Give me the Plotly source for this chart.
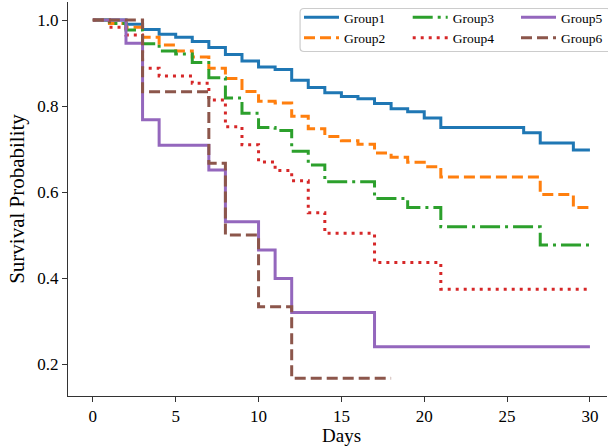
import plotly.graph_objects as go

# ---- data ----
groups = ["Group1", "Group2", "Group3", "Group4", "Group5", "Group6"]

g1_days = [0, 2, 3, 4, 5, 6, 7, 8, 9, 10, 11, 12, 13, 14, 15, 16, 17, 18, 19, 20, 21, 26, 27, 29, 30]
g1_surv = [1.0, 0.990, 0.978, 0.967, 0.960, 0.950, 0.936, 0.920, 0.905, 0.891, 0.885, 0.860, 0.843,
           0.831, 0.822, 0.817, 0.806, 0.794, 0.787, 0.772, 0.750, 0.738, 0.714, 0.698, 0.698]

g2_days = [0, 1, 2, 3, 4, 5, 6, 7, 8, 9, 10, 11, 12, 13, 14, 15, 16, 17, 18, 19, 20, 21, 27, 29, 30]
g2_surv = [1.0, 0.992, 0.983, 0.960, 0.942, 0.928, 0.914, 0.888, 0.864, 0.834, 0.811, 0.807, 0.776,
           0.747, 0.729, 0.719, 0.711, 0.691, 0.681, 0.669, 0.659, 0.635, 0.594, 0.564, 0.564]

g3_days = [0, 1, 2, 3, 4, 5, 6, 7, 8, 9, 10, 11, 12, 13, 14, 17, 19, 21, 27, 30]
g3_surv = [1.0, 0.992, 0.977, 0.945, 0.928, 0.921, 0.901, 0.866, 0.819, 0.783, 0.750, 0.743, 0.695,
           0.663, 0.624, 0.585, 0.564, 0.519, 0.477, 0.477]

g4_days = [0, 1, 2, 3, 4, 6, 7, 8, 9, 10, 11, 12, 13, 14, 17, 21, 30]
g4_surv = [1.0, 0.983, 0.965, 0.888, 0.870, 0.853, 0.814, 0.752, 0.710, 0.670, 0.650, 0.626, 0.552,
           0.504, 0.436, 0.374, 0.374]

g5_days = [0, 2, 3, 4, 7, 8, 10, 11, 12, 17, 30]
g5_surv = [1.0, 0.946, 0.768, 0.709, 0.651, 0.531, 0.465, 0.399, 0.320, 0.240, 0.240]

g6_days = [0, 3, 7, 8, 10, 12, 18]
g6_surv = [1.0, 0.833, 0.667, 0.500, 0.333, 0.167, 0.167]

x_ticks = [0, 5, 10, 15, 20, 25, 30]
y_ticks = [0.2, 0.4, 0.6, 0.8, 1.0]
y_tick_labels = ["0.2", "0.4", "0.6", "0.8", "1.0"]

all_days = [g1_days, g2_days, g3_days, g4_days, g5_days, g6_days]
all_surv = [g1_surv, g2_surv, g3_surv, g4_surv, g5_surv, g6_surv]

# ---- styling ----
colors = ["#1f77b4", "#ff7f0e", "#2ca02c", "#d62728", "#9467bd", "#8c564b"]
dashes = ["solid", "11px,5px", "20px,5px,3px,5px", "3px,5px", "solid", "11px,5px"]
legend_ids = ["legend", "legend", "legend2", "legend2", "legend3", "legend3"]
FONT = "Liberation Serif, Times New Roman, serif"

fig = go.Figure()
for name, d, s, c, ds, lg in zip(groups, all_days, all_surv, colors, dashes, legend_ids):
    fig.add_trace(go.Scatter(
        x=d, y=s, mode="lines", name=name, line_shape="hv", legendgroup=name,
        line=dict(color=c, width=3, dash=ds), legend=lg,
    ))

W, H = 608, 447
ml, mr, mt, mb = 68, 0, 2, 51
pw, ph = W - ml - mr, H - mt - mb


def px_x(px):
    return (px - ml) / pw


def px_y(py):
    return (H - mb - py) / ph


leg_common = dict(
    bgcolor="rgba(0,0,0,0)", borderwidth=0, orientation="v",
    xanchor="left", yanchor="top", font=dict(family=FONT, size=13.5, color="#000000"),
    tracegroupgap=0, itemwidth=35,
)
leg_top = px_y(2)

fig.update_layout(
    width=W, height=H,
    margin=dict(l=ml, r=mr, t=mt, b=mb),
    paper_bgcolor="white", plot_bgcolor="white",
    font=dict(family=FONT, color="#000000"),
    showlegend=True,
    legend=dict(x=px_x(299), y=leg_top, **leg_common),
    legend2=dict(x=px_x(407.7), y=leg_top, **leg_common),
    legend3=dict(x=px_x(516.7), y=leg_top, **leg_common),
    xaxis=dict(
        range=[-1.5, 31.03], tickmode="array", tickvals=x_ticks,
        ticktext=[str(v) for v in x_ticks],
        showgrid=False, zeroline=False, showline=True, linecolor="#333333", linewidth=1,
        ticks="outside", ticklen=5, tickwidth=1, tickcolor="#333333",
        tickfont=dict(family=FONT, size=17, color="#000000"),
    ),
    yaxis=dict(
        range=[0.1256, 1.042], tickmode="array", tickvals=y_ticks, ticktext=y_tick_labels,
        showgrid=False, zeroline=False, showline=True, linecolor="#333333", linewidth=1,
        ticks="outside", ticklen=5, tickwidth=1, tickcolor="#333333",
        tickfont=dict(family=FONT, size=17, color="#000000"),
        title=dict(text="Survival Probability", font=dict(family=FONT, size=21, color="#000000"),
                   standoff=6),
    ),
)

# x-axis title centred on the (wider, cropped) matplotlib axes
fig.add_annotation(
    x=15, y=-0.07, xref="x", yref="paper", text="Days", showarrow=False,
    xanchor="center", yanchor="top", borderpad=0,
    font=dict(family=FONT, size=19, color="#000000"),
)

# legend frame (shared by the three columns)
x0, x1 = px_x(300.5), px_x(612)
y0, y1 = px_y(51.5), px_y(8.5)
rx, ry = 4 / pw, 4 / ph
path = (f"M {x0 + rx},{y1} L {x1 - rx},{y1} Q {x1},{y1} {x1},{y1 - ry} "
        f"L {x1},{y0 + ry} Q {x1},{y0} {x1 - rx},{y0} L {x0 + rx},{y0} "
        f"Q {x0},{y0} {x0},{y0 + ry} L {x0},{y1 - ry} Q {x0},{y1} {x0 + rx},{y1} Z")
fig.add_shape(type="path", path=path, xref="paper", yref="paper",
              line=dict(color="#cccccc", width=1.2), fillcolor="rgba(255,255,255,0.8)",
              layer="below")

fig.write_html("out.html", config={"displayModeBar": False},
               post_script="document.body.style.margin='0px';")
